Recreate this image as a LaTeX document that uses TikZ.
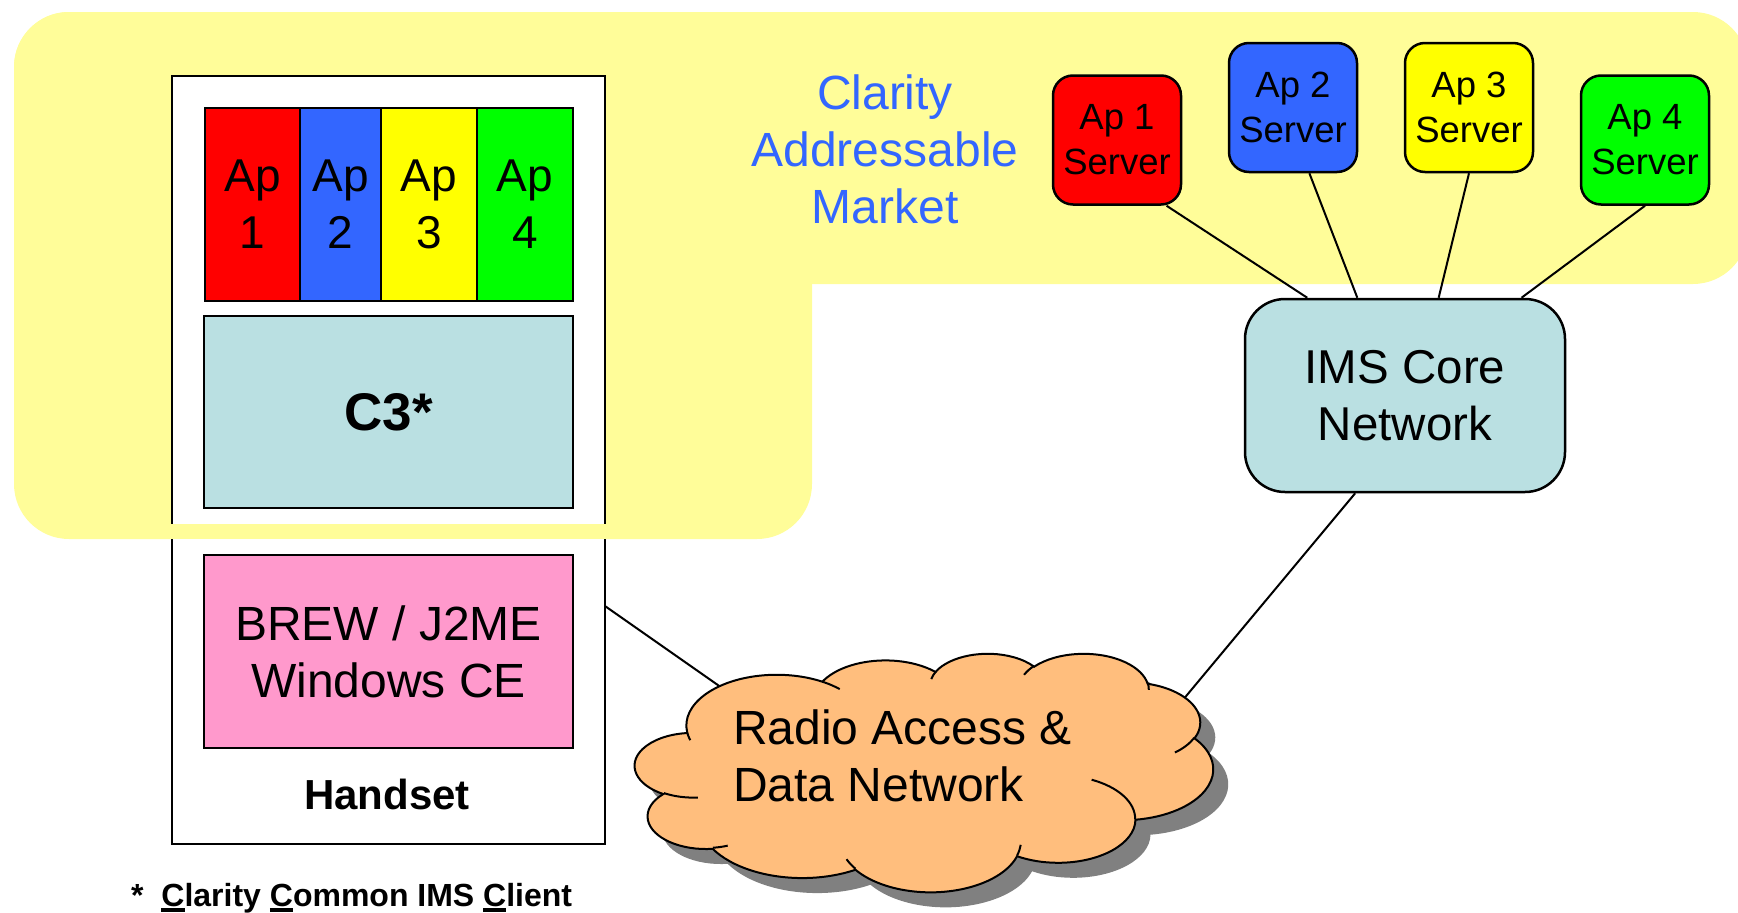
\documentclass[tikz,border=0pt]{standalone}
\usepackage{fontspec}
\setmainfont{Liberation Sans}
\definecolor{bgyellow}{HTML}{FFFD99}
\definecolor{apred}{HTML}{FF0000}
\definecolor{apblue}{HTML}{3366FF}
\definecolor{apyellow}{HTML}{FFFF00}
\definecolor{apgreen}{HTML}{00FF00}
\definecolor{paleblue}{HTML}{BAE0E2}
\definecolor{pinkbox}{HTML}{FF99CC}
\definecolor{cloudorange}{HTML}{FFBE7D}
\definecolor{shadowgray}{HTML}{808080}
\definecolor{textblue}{HTML}{3366FF}
\newcommand\ulchar[1]{\leavevmode\setbox0\hbox{#1}\rlap{\rule[-5.5pt]{\wd0}{3.5pt}}\box0}
\begin{document}
\begin{tikzpicture}[x=1pt,y=-1pt,
  box/.style={draw=black, line width=2.5pt, inner sep=0pt, outer sep=0pt},
  apbox/.style={box, minimum height=193pt, font=\fontsize{46}{57}\selectfont, align=center},
  srv/.style={draw=black, line width=2.5pt, rounded corners=20pt, minimum width=128pt, minimum height=129pt, inner sep=0pt, font=\fontsize{36.5}{45}\selectfont, align=center},
  link/.style={draw=black, line width=2pt},
  bigtext/.style={font=\fontsize{48}{57}\selectfont, align=center, inner sep=0pt},
  cloudline/.style={draw=black, line width=2pt},
  % elliptical arc given with visual start angle and sweep (as in DrawingML arcTo)
  parc/.style n args={4}{insert path={arc[start angle={atan2(#1*sin(#3),#2*cos(#3))},
     delta angle={mod(atan2(#1*sin(#3+#4),#2*cos(#3+#4))-atan2(#1*sin(#3),#2*cos(#3))+720,360)},
     x radius=#1, y radius=#2]}},
  cloudarcs/.style={insert path={
     [parc={6.753}{9.190}{-190.4875}{123.7805}]
     [parc={5.333}{7.267}{-144.1024}{89.9452}]
     [parc={4.365}{5.945}{-145.8079}{99.7230}]
     [parc={4.857}{6.595}{-130.9861}{117.2417}]
     [parc={5.333}{7.273}{-78.7089}{109.0269}]
     [parc={6.775}{9.220}{-46.2673}{130.2690}]
     [parc={5.785}{7.867}{0.6250}{114.0333}]
     [parc={6.752}{9.215}{22.4516}{115.1726}]
     [parc={7.720}{10.543}{66.2426}{75.7110}]
     [parc={4.360}{5.918}{-274.9421}{146.7356}]
     [parc={4.345}{5.945}{-246.8285}{152.5189}]
     -- cycle}},
]
\useasboundingbox (0,0) rectangle (1738,913);
% yellow addressable-market region
\fill[bgyellow, rounded corners=55pt] (14,12) rectangle (1748,284);
\fill[bgyellow, rounded corners=55pt] (14,12) rectangle (812,539);

% handset
\node[box, fill=white, minimum width=433pt, minimum height=768pt] (handset) at (388.5,460) {};
\fill[bgyellow] (170,524) rectangle (607,539);

% applications
\node[apbox, fill=apred, minimum width=95pt] (ap1) at (252.5,204.5) {Ap\\1};
\node[apbox, fill=apblue, minimum width=81pt] (ap2) at (340.5,204.5) {Ap\\2};
\node[apbox, fill=apyellow, minimum width=96pt] (ap3) at (429,204.5) {Ap\\3};
\node[apbox, fill=apgreen, minimum width=96pt] (ap4) at (525,204.5) {Ap\\4};

\node[box, fill=paleblue, minimum width=369pt, minimum height=192pt, font=\fontsize{53}{60}\selectfont\bfseries] (c3) at (388.5,412) {C3*};
\node[box, fill=pinkbox, minimum width=369pt, minimum height=193pt, font=\fontsize{48}{57}\selectfont, align=center] (os) at (388.5,651.5) {BREW / J2ME\\Windows CE};
\node[anchor=base, inner sep=0pt, font=\fontsize{42}{48}\selectfont\bfseries] (handsetlbl) at (387,809) {Handset};

\node[bigtext, text=textblue] (market) at (885,149.5) {Clarity\\Addressable\\Market};

% servers
\node[srv, fill=apred] (ap1s) at (1117,140) {Ap 1\\Server};
\node[srv, fill=apblue] (ap2s) at (1293,107.5) {Ap 2\\Server};
\node[srv, fill=apyellow] (ap3s) at (1469,107.5) {Ap 3\\Server};
\node[srv, fill=apgreen] (ap4s) at (1645,140) {Ap 4\\Server};

\node[draw=black, line width=2.5pt, rounded corners=40pt, fill=paleblue, minimum width=320pt, minimum height=193pt, inner sep=0pt, font=\fontsize{47.5}{57}\selectfont, align=center] (ims) at (1405,395.5) {IMS Core\\Network};

% cloud (shadow, body, inner strokes)
\begin{scope}[shift={(650,668)}, x=13.38pt, y=-5.52pt]
  \fill[shadowgray] (3.900,14.370) [cloudarcs];
\end{scope}
\begin{scope}[shift={(635,653)}, x=13.38pt, y=-5.52pt]
  \filldraw[cloudline, fill=cloudorange] (3.900,14.370) [cloudarcs];
  \draw[cloudline] (4.693,26.177) [parc={4.345}{5.945}{86.7420}{26.4295}];
  \draw[cloudline] (6.928,34.899) [parc={4.360}{5.918}{73.6105}{11.4475}];
  \draw[cloudline] (16.478,39.090) [parc={6.752}{9.215}{137.6242}{14.0811}];
  \draw[cloudline] (28.827,34.751) [parc={6.752}{9.215}{6.4533}{15.9984}];
  \draw[cloudline] (34.129,22.954) [parc={5.785}{7.867}{-70.2924}{70.9174}];
  \draw[cloudline] (41.798,15.354) [parc={5.333}{7.273}{30.3180}{27.7515}];
  \draw[cloudline] (38.324,5.426) [parc={4.857}{6.595}{-13.7443}{14.8589}];
  \draw[cloudline] (29.078,3.952) [parc={4.857}{6.595}{-149.1815}{18.1954}];
  \draw[cloudline] (22.141,4.720) [parc={4.365}{5.945}{-163.4943}{17.6864}];
  \draw[cloudline] (14.000,5.192) [parc={6.753}{9.190}{-66.7070}{12.3194}];
  \draw[cloudline] (4.127,15.789) [parc={6.753}{9.190}{157.6544}{11.8582}];
  \coordinate (cloudne) at (41.09,8.09);
  \coordinate (cloudnw) at (6.32,6.02);
\end{scope}
\node[anchor=west, align=left, inner sep=0pt, font=\fontsize{48}{57}\selectfont] (cloudtext) at (733,755.5) {Radio Access \&\\Data Network};

% connectors
\draw[link] (ap1s.-53) -- (ims.135);
\draw[link] (ap2s.-76) -- (ims.116);
\draw[link] (ap3s.south) -- (ims.71);
\draw[link] (ap4s.south) -- (ims.40);
\draw[link] (ims.-117) -- (cloudne);
\draw[link] (handset.-34) -- (cloudnw);

% footnote
\node[anchor=base west, inner sep=0pt, font=\fontsize{32}{38}\selectfont\bfseries] (note) at (131,906) {*\ \ \ulchar{C}larity \ulchar{C}ommon IMS \ulchar{C}lient};
\end{tikzpicture}
\end{document}
